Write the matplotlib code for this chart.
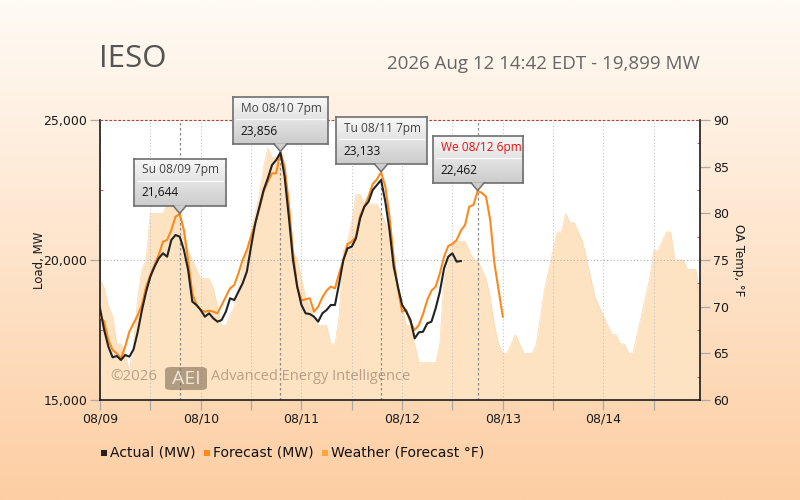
import numpy as np
import matplotlib
matplotlib.use("Agg")
import matplotlib.pyplot as plt
from matplotlib.patches import Polygon, Rectangle, FancyBboxPatch
from matplotlib.lines import Line2D

# ---------------- data ----------------
day_labels = ["08/09", "08/10", "08/11", "08/12", "08/13", "08/14"]

actual_mw = [
    18274, 17500, 16905, 16524, 16571, 16429, 16607, 16548, 16810, 17440, 18214, 18869,
    19405, 19762, 20060, 20238, 20119, 20714, 20893, 20833, 20357, 19643, 18512, 18393,
    18214, 17976, 18095, 17917, 17798, 17857, 18155, 18631, 18571, 18869, 19167, 19583,
    20476, 21310, 21905, 22500, 22917, 23393, 23571, 23833, 22976, 21548, 20000, 19048,
    18400, 18095, 18071, 17976, 17798, 18095, 18214, 18393, 18393, 19167, 20000, 20417,
    20476, 20774, 21488, 21905, 22083, 22500, 22679, 22857, 22083, 21071, 19762, 19048,
    18400, 18155, 17857, 17202, 17417, 17440, 17738, 17798, 18274, 18869, 19702, 20119,
    20238, 19940, 19964,
]

forecast_mw = [
    17976, 17798, 17143, 16786, 16667, 16488, 16905, 17440, 17738, 18036, 18393, 19048,
    19464, 19821, 20179, 20655, 20714, 21071, 21548, 21644, 21071, 20000, 18810, 18393,
    18214, 18155, 18190, 18155, 18095, 18393, 18690, 18988, 19107, 19524, 20000, 20357,
    20833, 21310, 21845, 22440, 22798, 23095, 23095, 23856, 23333, 22024, 20238, 19048,
    18550, 18600, 18631, 18155, 18333, 18667, 18905, 19048, 18988, 19524, 20000, 20571,
    20655, 20833, 21572, 21905, 22262, 22714, 22881, 23133, 22619, 21548, 20060, 18988,
    18155, 18214, 17762, 17500, 17679, 18071, 18571, 18905, 19048, 19524, 20119, 20500,
    20571, 20714, 21048, 21250, 21905, 21964, 22462, 22400, 22262, 21429, 19881, 18929,
    17976,
]

weather_f = [
    73, 72, 70, 69, 66, 66, 65, 63, 66, 71, 74, 75, 80, 80, 80, 80, 81, 81, 81, 80, 78, 76, 75, 74,
    73, 73, 73, 72, 70, 68, 68, 69, 70, 72, 74, 76, 78, 80, 82, 85, 87, 86, 86, 85, 83, 79, 76, 75,
    73, 71, 70, 69, 68, 68, 68, 66, 66, 69, 76, 77, 79, 82, 82, 81, 81, 81, 81, 80, 79, 78, 75, 72,
    70, 68, 68, 66, 64, 64, 64, 64, 64, 66, 73, 75, 77, 77, 77, 77, 76, 75, 75, 74, 73, 71, 68, 66,
    65, 65, 66, 67, 66, 65, 65, 65, 66, 69, 72, 74, 76, 78, 78, 80, 79, 79, 78, 77, 75, 73, 71, 70,
    69, 68, 67, 67, 66, 66, 65, 65, 67, 69, 71, 73, 76, 76, 77, 78, 78, 75, 75, 75, 74, 74, 74, 71,
]

tip_hours = [19, 43, 67, 90]
tip_labels = ["Su 08/09 7pm", "Mo 08/10 7pm", "Tu 08/11 7pm", "We 08/12 6pm"]
tip_values = [21644, 23856, 23133, 22462]

title_left = "IESO"
title_right = "2026 Aug 12 14:42 EDT - 19,899 MW"
legend_labels = ["Actual (MW)", "Forecast (MW)", "Weather (Forecast °F)"]

# ---------------- styling ----------------
W, H = 800, 500
C_ACT = "#222222"
C_FC = "#fb8a1e"
C_WX = "#fee3c2"
C_WX_LEG = "#fba73a"

plt.rcParams["font.family"] = ["DejaVu Sans"]

fig = plt.figure(figsize=(W / 100, H / 100), dpi=100)

# background gradient
bg = fig.add_axes([0, 0, 1, 1], zorder=-10)
bg.axis("off")
g = np.linspace(0, 1, 256)[:, None, None]
top = np.array([255, 251, 245]) / 255
bot = np.array([253, 206, 163]) / 255
bg.imshow(top + (bot - top) * g, aspect="auto", extent=[0, 1, 0, 1])
bg.set_xlim(0, 1)
bg.set_ylim(0, 1)

def fx(x):
    return x / W

def fy(y):
    return 1 - y / H

ax = fig.add_axes([fx(100), fy(400), 600 / W, 280 / H])
axT = ax.twinx()
ax.set_zorder(axT.get_zorder() + 1)
ax.patch.set_visible(False)
axT.patch.set_visible(True)
axT.patch.set_facecolor("white")

hours_wx = np.arange(len(weather_f))
hours_fc = np.arange(len(forecast_mw))
hours_act = np.arange(len(actual_mw))

axT.fill_between(hours_wx, 60, weather_f, color=C_WX, lw=0, zorder=1)
axT.plot(hours_wx, weather_f, color="#fddcb6", lw=0.6, zorder=1.2)
axT.set_ylim(60, 90)
axT.set_yticks(np.arange(60, 91, 5))
axT.set_yticks(np.arange(62.5, 90, 5), minor=True)

ax.set_xlim(0, 143)
ax.set_ylim(15000, 25000)

ax.plot(hours_fc, forecast_mw, color=C_FC, lw=1.5, zorder=3, solid_joinstyle="round")
ax.plot(hours_act, actual_mw, color=C_ACT, lw=1.5, zorder=4, solid_joinstyle="round")

xt = np.arange(0, 143, 12)
ax.set_xticks(xt)
ax.set_xticklabels([day_labels[int(t // 24)] if t % 24 == 0 else "" for t in xt])
ax.set_yticks([15000, 20000, 25000])
ax.set_yticklabels(["15,000", "20,000", "25,000"])
ax.set_yticks([17500, 22500], minor=True)

ax.grid(axis="x", color="#c4c4c4", ls=(0, (1, 2)), lw=0.8, zorder=2)
ax.axhline(20000, color="#b0b0b0", ls=(0, (1, 2)), lw=0.8, zorder=2)
ax.axhline(25000, color="#b04040", ls=(0, (2.5, 1.5)), lw=0.8, zorder=5, clip_on=False)

for h in tip_hours:
    ax.axvline(h, color="#8a8a8a", ls=(0, (2, 2)), lw=0.9, zorder=2.2)

for a in (ax, axT):
    a.spines["top"].set_visible(False)
ax.spines["right"].set_visible(False)
axT.spines["left"].set_visible(False)
axT.spines["bottom"].set_visible(False)
for s in ("left", "bottom"):
    ax.spines[s].set_color("#1a1a1a")
    ax.spines[s].set_linewidth(1.2)
axT.spines["right"].set_color("#1a1a1a")
axT.spines["right"].set_linewidth(1.2)

ax.tick_params(axis="both", which="major", direction="out", length=7.2, width=0.9,
               color="#aaaaaa", labelsize=9, labelcolor="#1a1a1a")
ax.tick_params(axis="x", which="major", pad=1.5)
ax.tick_params(axis="y", which="major", pad=2)
ax.tick_params(axis="y", which="minor", direction="in", length=2.5, width=0.8, color="#e06060")
axT.tick_params(axis="y", which="major", direction="out", length=7.2, width=0.9,
                color="#aaaaaa", labelsize=9, labelcolor="#1a1a1a", pad=2)
axT.tick_params(axis="y", which="minor", direction="in", length=2.5, width=0.8, color="#e06060")

# watermark
def ax_pix(x, y):
    # figure pixel (x, y from top) -> axes fraction
    return (x - 100) / 600, (400 - y) / 280

wx, wy = ax_pix(110, 377)
ax.text(wx, wy, "©2026", transform=ax.transAxes, fontsize=10.8, family="Open Sans",
        color="#6e5e4e", alpha=0.5, va="center", ha="left", zorder=2.6)
bx0, by0 = ax_pix(165, 390)
bx1, by1 = ax_pix(207, 367)
ax.add_patch(FancyBboxPatch((bx0, by0), bx1 - bx0, by1 - by0, transform=ax.transAxes,
                            boxstyle="round,pad=0,rounding_size=0.01", fc="#7a6a55",
                            ec="none", alpha=0.58, zorder=2.6))
cx, cy = ax_pix(186, 378.5)
ax.text(cx, cy, "AEI", transform=ax.transAxes, fontsize=14, family="Open Sans",
        color="#fff3e6", alpha=0.85, va="center", ha="center", zorder=2.7)
tx, ty = ax_pix(211, 377)
ax.text(tx, ty, "Advanced Energy Intelligence", transform=ax.transAxes, fontsize=10.5,
        family="Open Sans", color="#6e5e4e", alpha=0.5, va="center", ha="left", zorder=2.6)

# axis labels and titles
fig.text(fx(39), fy(260), "Load, MW", rotation=90, ha="center", va="center",
         fontsize=8.5, color="#1a1a1a")
fig.text(fx(739), fy(260), "OA Temp, °F", rotation=270, ha="center", va="center",
         fontsize=8.5, color="#1a1a1a")
fig.text(fx(99), fy(59), title_left, ha="left", va="center", fontsize=22.5,
         family="Open Sans", color="#555555")
fig.text(fx(700), fy(64), title_right, ha="right", va="center", fontsize=13.5,
         family="Open Sans", color="#666666")

# tooltips
tip_widths = [92, 95, 91, 90]
tip_colors = ["#444444", "#444444", "#444444", "#ee1111"]
for h, lab, val, w, lc in zip(tip_hours, tip_labels, tip_values, tip_widths, tip_colors):
    px, py = ax.transData.transform((h, val))
    bh = 47
    gap = 8
    x0 = px - w / 2
    y0 = py + gap
    tax = fig.add_axes([x0 / W, y0 / H, w / W, bh / H], zorder=5)
    grad = np.linspace(0.97, 0.80, 64)[:, None]
    tax.imshow(grad, cmap="gray", vmin=0, vmax=1, aspect="auto", extent=[0, w, 0, bh])
    tax.set_xlim(0, w)
    tax.set_ylim(0, bh)
    tax.plot([3, w - 3], [bh - 22, bh - 22], color="#fafafa", lw=1.0)
    tax.text(8, bh - 11, lab, color=lc, fontsize=8.6, family="Open Sans", va="center", ha="left")
    tax.text(8, bh - 34, f"{val:,}", color="#111111", fontsize=8.6, family="Open Sans",
             va="center", ha="left")
    tax.set_xticks([])
    tax.set_yticks([])
    for s in tax.spines.values():
        s.set_color("#6e6e6e")
        s.set_linewidth(1.2)
    tri = [(fx(px - 6), (y0 + 0.8) / H), (fx(px + 6), (y0 + 0.8) / H), (fx(px), (py + 0.5) / H)]
    fig.add_artist(Polygon(tri, closed=True, transform=fig.transFigure, fc="#cccccc",
                           ec="none", zorder=6))
    fig.add_artist(Line2D([fx(px - 6.5), fx(px), fx(px + 6.5)],
                          [(y0 + 0.2) / H, (py + 0.5) / H, (y0 + 0.2) / H],
                          transform=fig.transFigure, color="#6e6e6e", lw=1.1, zorder=7))

# legend
leg_items = [(101, 109.5, C_ACT), (204, 213, C_FC), (322, 331, C_WX_LEG)]
for (sx, tx_, col), lab in zip(leg_items, legend_labels):
    fig.add_artist(Rectangle((fx(sx), fy(456)), 6 / W, 6.5 / H, transform=fig.transFigure,
                             fc=col, ec="none"))
    fig.text(fx(tx_), fy(452), lab, ha="left", va="center", fontsize=10.1, color="#111111")

fig.savefig("out.png", dpi=100)
